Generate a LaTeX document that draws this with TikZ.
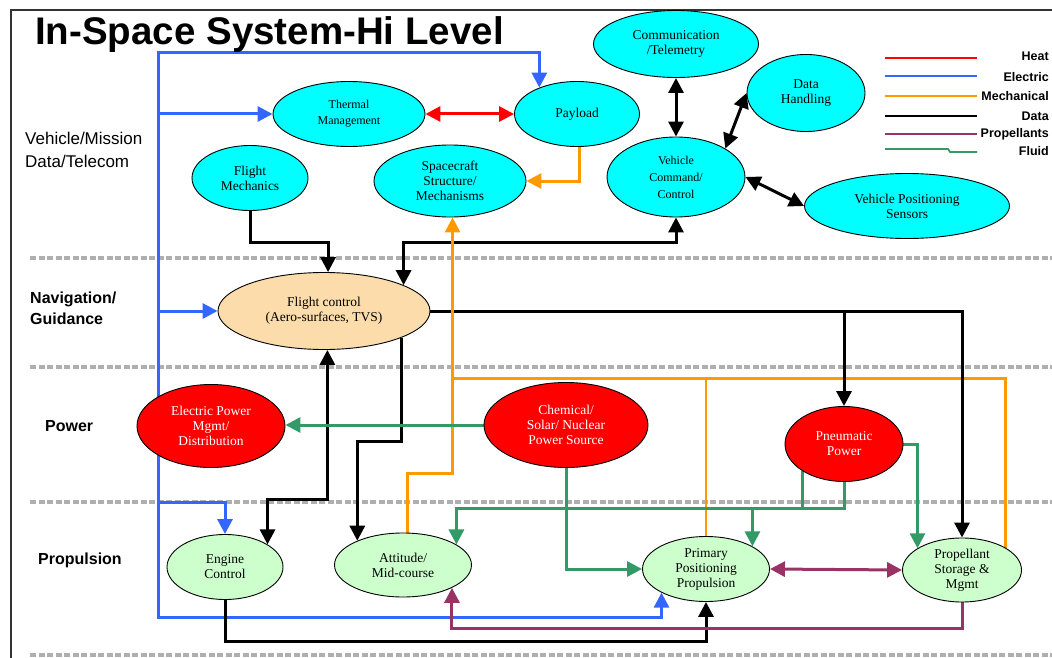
\documentclass[tikz,border=0pt]{standalone}
\usepackage{fontspec}
\setmainfont{Liberation Serif}
\newfontfamily\labelfont{Liberation Sans}
\usetikzlibrary{shapes.geometric,arrows.meta}
\definecolor{heatred}{RGB}{255,0,0}
\definecolor{elecblue}{RGB}{51,102,255}
\definecolor{mechorange}{RGB}{255,153,0}
\definecolor{propmaroon}{RGB}{153,51,102}
\definecolor{fluidgreen}{RGB}{51,153,102}
\definecolor{vehcyan}{RGB}{0,255,255}
\definecolor{navpeach}{RGB}{251,220,170}
\definecolor{propmint}{RGB}{204,255,204}
\definecolor{sepgray}{RGB}{175,175,175}
\pgfdeclarelayer{wires}
\pgfsetlayers{wires,main}

\begin{document}
\begin{tikzpicture}[x=1pt, y=-1pt,
  subsys/.style={ellipse, draw=black, line width=0.9pt, inner sep=0pt, align=center,
    font=\fontsize{13.5}{15}\selectfont},
  vehsys/.style={subsys, fill=vehcyan},
  navsys/.style={subsys, fill=navpeach},
  powsys/.style={subsys, fill=heatred, text=white},
  propsys/.style={subsys, fill=propmint},
  rowlabel/.style={anchor=west, align=left, inner sep=0pt, font=\labelfont\bfseries\fontsize{16}{21}\selectfont},
  layerline/.style={draw=sepgray, line width=4pt, dash pattern=on 6pt off 2.5pt},
  wire/.style={line width=3pt, >={Triangle[length=15pt,width=15pt]}},
  heatln/.style={wire, draw=heatred},
  elecln/.style={wire, draw=elecblue},
  mechln/.style={wire, draw=mechorange},
  dataln/.style={wire, draw=black},
  propln/.style={wire, draw=propmaroon},
  fluidln/.style={wire, draw=fluidgreen},
  keytxt/.style={anchor=east, inner sep=0pt, font=\labelfont\bfseries\fontsize{12.5}{13}\selectfont},
]
  \useasboundingbox (0,0) rectangle (1052,658);
  \clip (0,0) rectangle (1052,658);
  \draw[black!80, line width=2pt] (11,658) -- (11,10) -- (1052,10);
  \node[anchor=base west, inner sep=0pt, font=\labelfont\bfseries\fontsize{38.5}{40}\selectfont] (title) at (35,45) {In-Space System-Hi Level};

  \node[anchor=west, align=left, inner sep=0pt, font=\labelfont\fontsize{17}{23}\selectfont] (rowveh) at (25,150) {Vehicle/Mission\\Data/Telecom};
  \node[rowlabel] (rownav) at (30,308) {Navigation/\\Guidance};
  \node[rowlabel] (rowpow) at (45,426) {Power};
  \node[rowlabel] (rowprop) at (38,560) {Propulsion};

  \node[vehsys, minimum width=152pt, minimum height=65pt, font=\fontsize{12}{16}\selectfont] (therm) at (349,114) {Thermal\\Management};
  \node[vehsys, minimum width=125pt, minimum height=65pt] (pay) at (577,114) {Payload};
  \node[vehsys, minimum width=165pt, minimum height=67pt] (comm) at (676,44) {Communication\\/Telemetry};
  \node[vehsys, minimum width=118pt, minimum height=77pt] (dh) at (806,93) {Data\\Handling};
  \node[vehsys, minimum width=138pt, minimum height=80pt, font=\fontsize{12}{17}\selectfont] (vcmd) at (676,177) {Vehicle\\Command/\\Control};
  \node[vehsys, minimum width=205pt, minimum height=65pt] (vps) at (907,206) {Vehicle Positioning\\Sensors};
  \node[vehsys, minimum width=116pt, minimum height=65pt] (fmech) at (250,178) {Flight\\Mechanics};
  \node[vehsys, minimum width=152pt, minimum height=72pt] (sc) at (450,181) {Spacecraft\\Structure/\\Mechanisms};
  \node[navsys, minimum width=212pt, minimum height=77pt] (fctl) at (324,311) {Flight control\\(Aero-surfaces, TVS)};
  \node[powsys, minimum width=148pt, minimum height=83pt] (epow) at (211,426) {Electric Power\\Mgmt/\\Distribution};
  \node[powsys, minimum width=164pt, minimum height=85pt] (chem) at (566,425) {Chemical/\\Solar/ Nuclear\\Power Source};
  \node[powsys, minimum width=118pt, minimum height=75pt] (pneu) at (844,444) {Pneumatic\\Power};
  \node[propsys, minimum width=116pt, minimum height=65pt] (engctl) at (225,567) {Engine\\Control};
  \node[propsys, minimum width=137pt, minimum height=64pt] (att) at (403,565) {Attitude/\\Mid-course};
  \node[propsys, minimum width=127pt, minimum height=65pt] (prim) at (706,569) {Primary\\Positioning\\Propulsion};
  \node[propsys, minimum width=119pt, minimum height=64pt] (pst) at (962,570) {Propellant\\Storage \&\\Mgmt};

  \foreach \cc/\yy in {heatred/58, elecblue/76, mechorange/96, black/116, propmaroon/134}
    \draw[draw=\cc, line width=1.8pt] (885,\yy) -- (977,\yy);
  \draw[draw=fluidgreen, line width=1.8pt] (885,149) -- (948,149) -- (950,152) -- (977,152);
  \foreach \txt/\yy in {Heat/56, Electric/77, Mechanical/96, Data/116, Propellants/134, Fluid/151}
    \node[keytxt] (key\txt) at (1049,\yy) {\txt};

  \begin{pgfonlayer}{wires}
  \foreach \yy in {258, 367, 502, 655}
    \draw[layerline] (30,\yy) -- (1052,\yy);

  \coordinate (mechtee) at ([yshift=-161pt]sc.-86);
  \draw[mechln] (mechtee) -| (pst.27);
  \draw[mechln, line width=1.2pt] (mechtee -| prim.north) -- (prim.north);
  \draw[mechln,->] (pay.-86) |- (sc.east);

  \coordinate (bustop) at (158,53);
  \coordinate (busbot) at (158,617);
  \coordinate (buseng) at (158,502);
  \draw[elecln,<->] (prim.208) |- (busbot) -- (bustop) -| (pay.145);
  \draw[elecln,->] (therm.west -| bustop) -- (therm.west);
  \draw[elecln,->] (fctl.west -| bustop) -- (fctl.west);
  \draw[elecln,->] (buseng) -| (engctl.north);

  \draw[dataln,<->] (comm.south) -- (vcmd.north);
  \draw[dataln,<->] (dh.west) -- (vcmd.30);
  \draw[dataln,<->] (vcmd.east) -- (vps.west);
  \draw[dataln,->] (fmech.south) -- ++(0,32) -| (fctl.84);
  \draw[dataln,<->] (vcmd.south) -- ++(0,25) -| (fctl.18);
  \draw[dataln,->] (fctl.east) -| (pst.north);
  \draw[dataln,->] (fctl.east -| pneu.north) -- (pneu.north);
  \draw[dataln,->] (fctl.-19) -- ++(0,104) -| (att.152);
  \draw[dataln,<->] (fctl.-85) -- ++(0,150) -| (engctl.28);
  \draw[dataln,->] (engctl.south) -- ++(0,42) -| (prim.south);

  \draw[mechln,<-] (sc.-86) -- (mechtee) -- ++(0,95) -| (att.82);

  \coordinate (fluidtee) at ([yshift=-37pt]pneu.-147);
  \draw[fluidln,->] (chem.west) -- (chem.west -| epow.east);
  \draw[fluidln,->] (chem.south) |- (prim.west);
  \draw[fluidln,->] (pneu.-147) -- (fluidtee) -| (att.21);
  \draw[fluidln] (pneu.south) |- (fluidtee);
  \draw[fluidln,->] (fluidtee -| prim.26) -- (prim.26);
  \draw[fluidln,->] (pneu.east) -| (pst.154);

  \draw[propln,<->] (prim.east) -- (pst.west);
  \draw[propln,->] (pst.south) -- ++(0,26) -| (att.-25);

  \draw[heatln,<->] (therm.east) -- (pay.west);
  \end{pgfonlayer}
\end{tikzpicture}
\end{document}
